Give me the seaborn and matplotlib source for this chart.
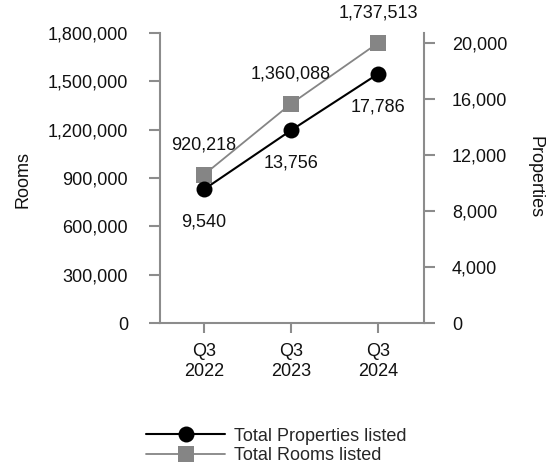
import matplotlib
matplotlib.use("Agg")
import matplotlib.pyplot as plt
import seaborn as sns
from matplotlib.ticker import FuncFormatter

# Listing totals per quarter
quarters = ["Q3\n2022", "Q3\n2023", "Q3\n2024"]
rooms_listed = [920218, 1360088, 1737513]
properties_listed = [9540, 13756, 17786]

rooms_ticks = [0, 300000, 600000, 900000, 1200000, 1500000, 1800000]
properties_ticks = [0, 4000, 8000, 12000, 16000, 20000]

sns.set_theme(style="white")
plt.rcParams["font.family"] = ["Liberation Sans", "DejaVu Sans"]
plt.rcParams["font.size"] = 13

AXIS_GREY = "#8c8c8c"
ROOM_GREY = "#858585"

fig = plt.figure(figsize=(5.47, 4.66), dpi=100)
ax = fig.add_axes([160 / 547, 1 - 323 / 466, (424 - 160) / 547, (323 - 33) / 466])
ax2 = ax.twinx()

pos = list(range(len(quarters)))

sns.lineplot(x=pos, y=rooms_listed, ax=ax, color=ROOM_GREY, linewidth=1.3,
             marker="s", markersize=11, markeredgecolor=ROOM_GREY,
             markerfacecolor=ROOM_GREY, markeredgewidth=0, legend=False)
sns.lineplot(x=pos, y=properties_listed, ax=ax2, color="black", linewidth=1.5,
             marker="o", markersize=11.5, markeredgecolor="black",
             markerfacecolor="black", markeredgewidth=0, legend=False)

fmt = FuncFormatter(lambda v, p: f"{int(v):,}")

ax.set_xlim(-0.505, 2.53)
ax.set_ylim(0, 1800000)
ax2.set_ylim(0, 20714)
ax.set_xticks(pos)
ax.set_xticklabels(quarters, fontsize=13)
ax.set_yticks(rooms_ticks)
ax.yaxis.set_major_formatter(fmt)
ax2.set_yticks(properties_ticks)
ax2.yaxis.set_major_formatter(fmt)

for a in (ax, ax2):
    for s in a.spines.values():
        s.set_color(AXIS_GREY)
        s.set_linewidth(1.5)
    a.spines["top"].set_visible(False)
    a.grid(False)
ax.spines["right"].set_visible(False)
ax2.spines["left"].set_visible(False)
ax2.spines["bottom"].set_visible(False)

ax.tick_params(axis="y", direction="out", length=8, width=1.5, color=AXIS_GREY,
               pad=15, labelsize=13, left=True, labelcolor="#111111")
ax.tick_params(axis="x", direction="out", length=7.5, width=1.5, color=AXIS_GREY,
               pad=7, labelsize=13, bottom=True, labelcolor="#111111")
ax2.tick_params(axis="y", direction="out", length=8, width=1.5, color=AXIS_GREY,
                pad=12, labelsize=13, right=True, labelcolor="#111111")

ax.set_ylabel("Rooms", fontsize=13, color="#111111")
ax2.set_ylabel("Properties", fontsize=13, color="#111111", rotation=270)
ax.yaxis.label.set_va("center")
ax2.yaxis.label.set_va("center")
ax.yaxis.set_label_coords(23 / 547, 1 - 180 / 466, transform=fig.transFigure)
ax2.yaxis.set_label_coords(535 / 547, 1 - 177 / 466, transform=fig.transFigure)

# Value labels: rooms above the squares, properties below the circles
for x, v in zip(pos, rooms_listed):
    ax.annotate(f"{v:,}", (x, v), xytext=(0, 21.5), textcoords="offset points",
                ha="center", va="center", fontsize=13, color="#111111")
for x, v in zip(pos, properties_listed):
    ax2.annotate(f"{v:,}", (x, v), xytext=(0, -23.5), textcoords="offset points",
                 ha="center", va="center", fontsize=13, color="#111111")

handles = [ax2.get_lines()[0], ax.get_lines()[0]]
labels = ["Total Properties listed", "Total Rooms listed"]
fig.legend(handles, labels, loc="center left",
           bbox_to_anchor=(146 / 547, 1 - 446 / 466), frameon=False,
           fontsize=13, handlelength=4.4, handletextpad=0.45,
           labelspacing=0.15, borderpad=0, borderaxespad=0)

fig.savefig("out.png", dpi=100)
